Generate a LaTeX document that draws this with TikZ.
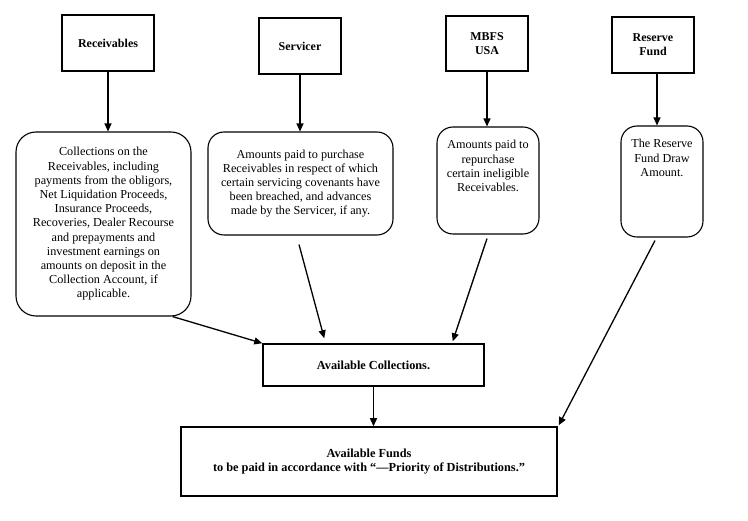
\documentclass[tikz,border=0pt]{standalone}
\usepackage{fontspec}
\setmainfont{Liberation Serif}
\usetikzlibrary{arrows.meta,calc}
\begin{document}
\begin{tikzpicture}[x=1pt,y=-1pt,
  src/.style={draw,line width=1.5pt,inner sep=0pt,align=center,font=\fontsize{12}{14}\selectfont\bfseries},
  rbox/.style={draw,line width=1.1pt,rounded corners=16pt,inner sep=0pt,align=center,font=\fontsize{12.2}{14.2}\selectfont},
  sbox/.style={draw,line width=1.5pt,inner sep=0pt,align=center,font=\fontsize{12.3}{13.5}\selectfont\bfseries},
  arr/.style={line width=1.3pt,-{Triangle[width=7pt,length=8pt]}}]
\useasboundingbox (0,0) rectangle (748,521);
% source boxes
\node[src,minimum width=92pt,minimum height=56pt] (rec) at (108,43) {Receivables};
\node[src,minimum width=82pt,minimum height=56pt] (ser) at (300,46) {Servicer};
\node[src,minimum width=82pt,minimum height=55pt] (mbfs) at (487,43.5) {MBFS\\USA};
\node[src,minimum width=82pt,minimum height=56pt] (res) at (653,45) {Reserve\\Fund};
% content boxes
\node[rbox,minimum width=175pt,minimum height=184pt,rounded corners=20pt] (lcont) at (103.5,224)
  {Collections on the\\Receivables, including\\payments from the obligors,\\Net Liquidation Proceeds,\\Insurance Proceeds,\\Recoveries, Dealer Recourse\\and prepayments and\\investment earnings on\\amounts on deposit in the\\Collection Account, if\\applicable.};
\node[rbox,minimum width=185pt,minimum height=103pt] (scont) at (300.5,183.5)
  {Amounts paid to purchase\\Receivables in respect of which\\certain servicing covenants have\\been breached, and advances\\made by the Servicer, if any.};
\node[rbox,minimum width=102pt,minimum height=107pt] (mcont) at (488,180.5)
  {\parbox[t][80pt][t]{100pt}{\centering Amounts paid to\\repurchase\\certain ineligible\\Receivables.}};
\node[rbox,minimum width=82pt,minimum height=111pt] (rcont) at (662,181.5)
  {\parbox[t][84pt][t]{80pt}{\centering The Reserve\\Fund Draw\\Amount.}};
% sink boxes
\node[sbox,minimum width=221pt,minimum height=42pt] (coll) at (373.5,365) {Available Collections.};
\node[sbox,minimum width=376pt,minimum height=69pt] (funds) at (369,461.5)
  {Available Funds\\to be paid in accordance with ``---Priority of Distributions.''};
% arrows
\draw[arr] (rec.south) -- (rec.south |- lcont.north);
\draw[arr] (ser.south) -- (ser.south |- scont.north);
\draw[arr] (mbfs.south) -- (mbfs.south |- mcont.north);
\draw[arr] ([xshift=4pt]res.south) -- ([xshift=4pt]res.south |- rcont.north);
\draw[arr] ($(lcont.south east)+(-19,0)$) -- (coll.north west);
\draw[arr] ($(scont.south)+(-1.5,9)$) -- ($(coll.north west)+(62,-5)$);
\draw[arr] ($(mcont.south)+(-1,4)$) -- ($(coll.north east)+(-32,-2)$);
\draw[arr] ($(rcont.south)+(-7,3)$) -- ($(funds.north east)+(1,-1)$);
\draw[arr] (coll.south) -- (coll.south |- funds.north);
\end{tikzpicture}
\end{document}
